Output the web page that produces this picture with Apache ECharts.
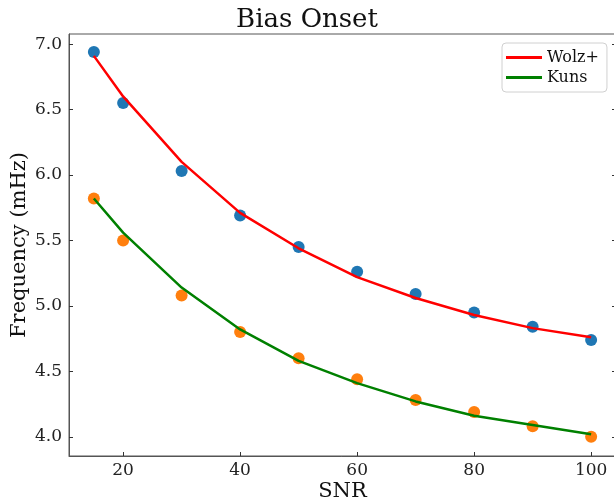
<!DOCTYPE html>
<html>
<head>
<meta charset="utf-8">
<script src="https://cdn.jsdelivr.net/npm/echarts@6/dist/echarts.min.js"></script>
<style>
html,body{margin:0;padding:0;background:#fff;}
#chart{width:614px;height:502px;}
</style>
</head>
<body>
<div id="chart"></div>
<script>
const snr = [15, 20, 30, 40, 50, 60, 70, 80, 90, 100];
const wolzPoints = [6.94, 6.55, 6.03, 5.69, 5.45, 5.26, 5.09, 4.95, 4.84, 4.74];
const wolzFit = [6.91, 6.60, 6.10, 5.71, 5.44, 5.22, 5.06, 4.93, 4.83, 4.76];
const kunsPoints = [5.82, 5.50, 5.08, 4.80, 4.60, 4.44, 4.28, 4.19, 4.08, 4.00];
const kunsFit = [5.82, 5.56, 5.14, 4.82, 4.58, 4.41, 4.27, 4.16, 4.09, 4.02];
const xTicks = [20, 40, 60, 80, 100];
const yTicks = [4.0, 4.5, 5.0, 5.5, 6.0, 6.5, 7.0];

const pair = (xs, ys) => xs.map((x, i) => [x, ys[i]]);
const FONT = '"DejaVu Serif", "Liberation Serif", serif';

const chart = echarts.init(document.getElementById('chart'), null, {renderer: 'canvas'});
chart.setOption({
  animation: false,
  backgroundColor: '#fff',
  title: {
    text: 'Bias Onset', left: 'center', top: 2,
    textStyle: {fontFamily: FONT, fontSize: 26, fontWeight: 'normal', color: '#111'}
  },
  legend: {
    left: 502, top: 43, orient: 'vertical',
    padding: [6, 8, 6, 4],
    itemGap: 3, itemWidth: 36, itemHeight: 3,
    borderColor: '#d0d0d0', borderWidth: 1, borderRadius: 4,
    backgroundColor: 'rgba(255,255,255,0.85)',
    textStyle: {fontFamily: FONT, fontSize: 16, color: '#111', lineHeight: 17},
    data: [{name: 'Wolz+', icon: 'rect'}, {name: 'Kuns', icon: 'rect'}]
  },
  grid: {left: 69, right: -2, top: 34, bottom: 46, show: true, borderColor: '#555', borderWidth: 1,
    outerBoundsMode: 'none', containLabel: false},
  xAxis: {
    type: 'value', min: 10.75, max: 104.25,
    name: 'SNR', nameLocation: 'middle', nameGap: 25, nameMoveOverlap: false,
    nameTextStyle: {fontFamily: FONT, fontSize: 21, color: '#111'},
    axisLine: {show: true, lineStyle: {color: '#555'}},
    axisTick: {show: true, inside: true, length: 4, lineStyle: {color: '#333'}, customValues: xTicks},
    axisLabel: {fontFamily: FONT, fontSize: 17, color: '#222', margin: 6, customValues: xTicks},
    splitLine: {show: false}
  },
  yAxis: [{
    type: 'value', min: 3.853, max: 7.077,
    name: 'Frequency (mHz)', nameLocation: 'middle', nameGap: 39, nameMoveOverlap: false,
    nameTextStyle: {fontFamily: FONT, fontSize: 21, color: '#111'},
    axisLine: {show: true, lineStyle: {color: '#555'}},
    axisTick: {show: true, inside: true, length: 4, lineStyle: {color: '#333'}, customValues: yTicks},
    axisLabel: {fontFamily: FONT, fontSize: 17, color: '#222', margin: 7, customValues: yTicks,
      formatter: v => v.toFixed(1)},
    splitLine: {show: false}
  }, {
    type: 'value', position: 'right', min: 3.853, max: 7.077,
    axisLine: {show: false},
    axisTick: {show: true, inside: true, length: 4, lineStyle: {color: '#333'}, customValues: yTicks},
    axisLabel: {show: false},
    splitLine: {show: false}
  }],
  series: [
    {name: 'wolzPts', type: 'scatter', data: pair(snr, wolzPoints), symbolSize: 12,
      itemStyle: {color: '#1f77b4', opacity: 1}, z: 2},
    {name: 'kunsPts', type: 'scatter', data: pair(snr, kunsPoints), symbolSize: 12,
      itemStyle: {color: '#ff7f0e', opacity: 1}, z: 2},
    {name: 'Wolz+', type: 'line', data: pair(snr, wolzFit), symbol: 'none',
      lineStyle: {color: '#ff0000', width: 2.5}, itemStyle: {color: '#ff0000'}, z: 3},
    {name: 'Kuns', type: 'line', data: pair(snr, kunsFit), symbol: 'none',
      lineStyle: {color: '#008000', width: 2.5}, itemStyle: {color: '#008000'}, z: 3}
  ]
});
</script>
</body>
</html>
